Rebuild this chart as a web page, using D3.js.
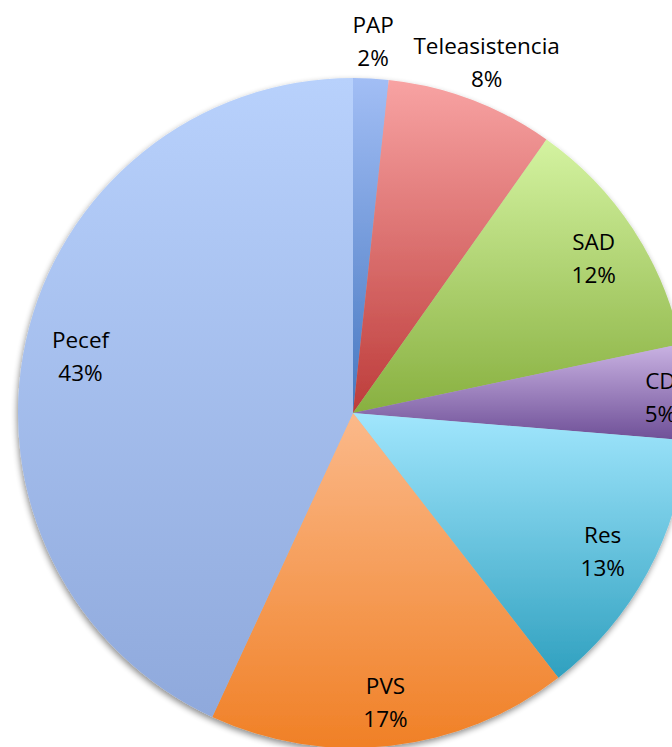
<!DOCTYPE html>
<html><head><meta charset="utf-8">
<script src="https://cdn.jsdelivr.net/npm/d3@7"></script>
<style>html,body{margin:0;padding:0;background:#fff;overflow:hidden}</style>
</head><body>
<svg id="chart" width="672" height="747"></svg>
<script>
const categories = ["PAP","Teleasistencia","SAD","CD","Res","PVS","Pecef"];
const values = [1.7, 8.1, 11.9, 4.6, 13.2, 17.4, 43.1];
const colorTop = ["#a2bef5","#f8a3a3","#d4f3a1","#cab3e3","#a1e6fd","#fbb98a","#b8d1fc"];
const colorBottom = ["#4677c0","#bd3c3a","#88b040","#6e4f97","#2fa0bf","#f08026","#8fa9dc"];
// label placement (layout only): distance of label from pie centre
const labelRadius = {PAP:376, Teleasistencia:378, SAD:288, CD:308, Res:284, PVS:288, Pecef:279};

const svg = d3.select("#chart");
const cx = 353, cy = 413, R = 335;
const defs = svg.append("defs");
const f = defs.append("filter").attr("id","sh").attr("x","-10%").attr("y","-10%").attr("width","120%").attr("height","120%");
f.append("feGaussianBlur").attr("in","SourceAlpha").attr("stdDeviation",3).attr("result","b");
f.append("feOffset").attr("in","b").attr("dx",-1).attr("dy",3).attr("result","o");
f.append("feComponentTransfer").attr("in","o").attr("result","o2").append("feFuncA").attr("type","linear").attr("slope",0.45);
const m = f.append("feMerge"); m.append("feMergeNode").attr("in","o2"); m.append("feMergeNode").attr("in","SourceGraphic");

categories.forEach((c,i)=>{
  const g = defs.append("linearGradient").attr("id","g"+i).attr("x1",0).attr("y1",0).attr("x2",0).attr("y2",1);
  g.append("stop").attr("offset","0%").attr("stop-color",colorTop[i]);
  g.append("stop").attr("offset","100%").attr("stop-color",colorBottom[i]);
});

const data = categories.map((c,i)=>({cat:c, v:values[i], i}));
const pie = d3.pie().value(d=>d.v).sort(null);
const arcs = pie(data);
const total = d3.sum(values);
const arc = d3.arc().innerRadius(0).outerRadius(R);
const g = svg.append("g").attr("transform",`translate(${cx},${cy})`);
const pg = g.append("g").attr("filter","url(#sh)");
pg.selectAll("path").data(arcs).join("path")
  .attr("d",arc)
  .attr("fill",d=>`url(#g${d.data.i})`);

const lab = g.selectAll("text.l").data(arcs).join("text").attr("class","l")
  .attr("transform",d=>{const r=labelRadius[d.data.cat];const p=d3.arc().innerRadius(r).outerRadius(r).centroid(d);return `translate(${p[0]},${p[1]})`;})
  .attr("text-anchor","middle")
  .style("font-family","'Open Sans', sans-serif")
  .style("font-size","22.5px")
  .attr("fill","#000");
lab.append("tspan").attr("x",0).attr("y",-5).text(d=>d.data.cat);
lab.append("tspan").attr("x",0).attr("y",28).text(d=>Math.round(d.data.v/total*100)+"%");
</script>
</body></html>
